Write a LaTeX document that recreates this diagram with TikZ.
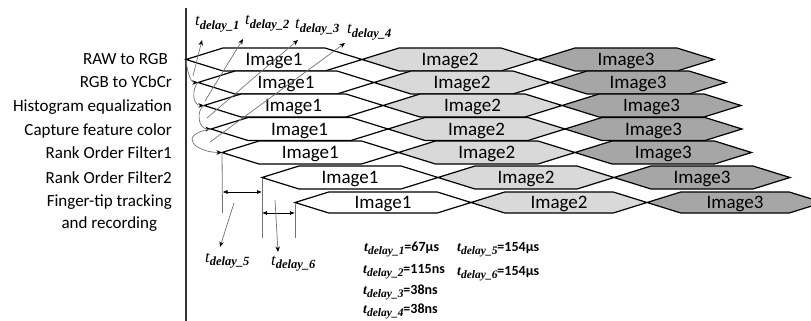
\documentclass[tikz,border=0pt]{standalone}
\usepackage{fontspec}
\setmainfont{Carlito}
\newfontfamily\tfont{Liberation Serif}
\usetikzlibrary{arrows.meta}
\definecolor{imgA}{gray}{1}
\definecolor{imgB}{gray}{0.85}
\definecolor{imgC}{gray}{0.65}
\newcommand\tdel[2]{{\tfont\itshape t}\raisebox{-0.45ex}{\fontsize{#2}{#2}\tfont\bfseries\itshape delay\_#1}}
\begin{document}
\begin{tikzpicture}[x=1pt,y=-1pt,
  hexs/.style={draw=black, line width=1.2pt, line join=miter},
  imglbl/.style={font=\fontsize{19}{21}\selectfont, anchor=base, inner sep=0pt},
  stagelbl/.style={font=\fontsize{17}{22.5}\selectfont, inner sep=0pt},
  dlbl/.style={font=\fontsize{16.5}{17}\selectfont, anchor=base west, inner sep=0pt},
  vlbl/.style={font=\fontsize{14}{15}\selectfont\bfseries, anchor=base west, inner sep=0pt},
  garrow/.style={draw=black!55, line width=0.7pt, -{Stealth[length=5.5pt,width=4.5pt,color=black]}},
  gcurve/.style={draw=black!55, line width=0.7pt, -{Stealth[length=5.5pt,width=4.5pt,color=black]}},
  guide/.style={draw=black!55, line width=0.8pt},
  dimarrow/.style={draw=black, line width=0.7pt, {Latex[length=5pt,width=4pt]}-{Latex[length=5pt,width=4pt]}},
  axisline/.style={draw=black!80, line width=1.1pt}
]
\useasboundingbox (0,0) rectangle (811,321);
\clip (0,0) rectangle (811,321);

% axis
\coordinate (axT) at (186,8);
\coordinate (axB) at (186,321);
\draw[axisline] (axT) -- (axB);

% stage labels
\node[stagelbl, anchor=base east] (s1) at (168,65) {RAW to RGB};
\node[stagelbl, anchor=base east] (s2) at (172,88) {RGB to YCbCr};
\node[stagelbl, anchor=base east] (s3) at (172,111.5) {Histogram equalization};
\node[stagelbl, anchor=base east] (s4) at (172,135) {Capture feature color};
\node[stagelbl, anchor=base east] (s5) at (172,158) {Rank Order Filter1};
\node[stagelbl, anchor=base east] (s6) at (172,183) {Rank Order Filter2};
\node[stagelbl, anchor=east, align=center] (s7) at (172,213) {Finger-tip tracking\\and recording};

% hexagon rows
\foreach \n/\x/\y/\h/\w in {1/186/59.5/11.5/176, 2/198/82.5/11.5/176, 3/204/105.5/11.5/179,
                            4/211/129/11.5/177, 5/222/152.5/11.5/176.5, 6/262/177.5/11.5/176,
                            7/295/202.5/10.5/176}{
  \coordinate (tip\n) at (\x,\y);
  \foreach \k/\fc/\lab in {0/imgA/Image1, 1/imgB/Image2, 2/imgC/Image3}{
    \pgfmathsetmacro\xl{\x+\k*\w}
    \pgfmathsetmacro\s{\h*37/11.5}
    \pgfmathsetmacro\mid{\w-2*\s}
    \pgfmathsetmacro\xc{\xl+\w/2}
    \pgfmathsetmacro\yb{\y+6.2}
    \filldraw[hexs, fill=\fc] (\xl,\y) -- ++(\s,-\h) -- ++(\mid,0) -- ++(\s,\h)
        -- ++(-\s,\h) -- ++(-\mid,0) -- cycle;
    \node[imglbl] (img\n-\k) at (\xc,\yb) {\lab};
  }
}

% curved arrows between successive stages
\draw[gcurve] (tip1) .. controls +(1,10.5) and +(-8,0) .. (tip2);
\draw[gcurve] (tip2) .. controls +(-6,5.5) and +(-12,0) .. (tip3);
\draw[gcurve] (tip3) .. controls +(-8,5) and +(-13,0) .. (tip4);
\draw[gcurve] (tip4) .. controls +(-35,6) and +(-26,0) .. (tip5);

% delay labels on top
\node[dlbl] (d1) at (195,26) {\tdel{1}{12.5}};
\node[dlbl] (d2) at (245,24.5) {\tdel{2}{12.5}};
\node[dlbl] (d3) at (295,29) {\tdel{3}{12.5}};
\node[dlbl] (d4) at (347,34) {\tdel{4}{12.5}};

\coordinate (a1s) at (193,76);  \coordinate (a1e) at (202,40);
\coordinate (a2s) at (205,101); \coordinate (a2e) at (243,39);
\coordinate (a3s) at (207,118); \coordinate (a3e) at (298,40);
\coordinate (a4s) at (210,142); \coordinate (a4e) at (345,43);
\draw[garrow] (a1s) -- (a1e);
\draw[garrow] (a2s) -- (a2e);
\draw[garrow] (a3s) -- (a3e);
\draw[garrow] (a4s) -- (a4e);

% guide lines and dimension arrows
\coordinate (g5) at (222.5,213);
\coordinate (g6) at (262,238);
\coordinate (g7) at (295,238);
\draw[guide] (tip5) -- (g5);
\draw[guide] (tip6) -- (g6);
\draw[guide] (tip7) -- (g7);
\coordinate (m5a) at (222.5,192); \coordinate (m5b) at (262,192);
\coordinate (m6a) at (262,213);   \coordinate (m6b) at (295,213);
\draw[dimarrow] (m5a) -- (m5b);
\draw[dimarrow] (m6a) -- (m6b);

\node[dlbl] (d5) at (205,262) {\tdel{5}{12.5}};
\node[dlbl] (d6) at (271,265) {\tdel{6}{12.5}};
\coordinate (a5s) at (234,203); \coordinate (a5e) at (220,247);
\coordinate (a6s) at (275,200); \coordinate (a6e) at (278,252);
\draw[garrow] (a5s) -- (a5e);
\draw[garrow] (a6s) -- (a6e);

% values
\node[vlbl] (v1) at (364,251) {\tdel{1}{11.5}=67μs};
\node[vlbl] (v2) at (363,273) {\tdel{2}{11.5}=115ns};
\node[vlbl] (v3) at (363,294.5) {\tdel{3}{11.5}=38ns};
\node[vlbl] (v4) at (363,313) {\tdel{4}{11.5}=38ns};
\node[vlbl] (v5) at (457,251) {\tdel{5}{11.5}=154μs};
\node[vlbl] (v6) at (457,275) {\tdel{6}{11.5}=154μs};
\end{tikzpicture}
\end{document}
